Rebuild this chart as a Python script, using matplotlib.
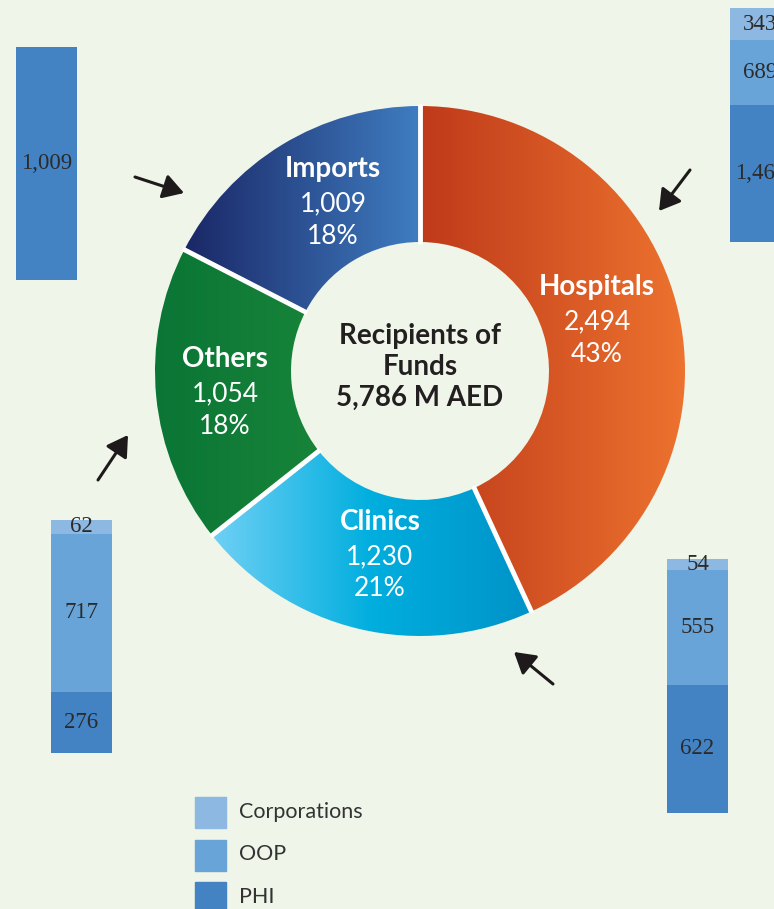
import numpy as np
import matplotlib.pyplot as plt
from matplotlib.colors import LinearSegmentedColormap

# donut data
names = ["Hospitals", "Clinics", "Others", "Imports"]
amounts = [2494, 1230, 1054, 1009]
shares = ["43%", "21%", "18%", "18%"]
total_label = "5,786 M AED"

# stacked bars (Corporations, OOP, PHI) for each recipient
sources = ["Corporations", "OOP", "PHI"]
bar_hospitals = [343, 689, 1462]
bar_clinics = [54, 555, 622]
bar_others = [62, 717, 276]
bar_imports = [0, 0, 1009]

W, H = 774, 909
bg = "#eff5e8"
src_colors = ["#8db8e2", "#68a4d8", "#4383c4"]
grads = [["#bf3a1a", "#ee742f"],
         ["#6fd0f5", "#00aede", "#0093c8"],
         ["#0a7535", "#1f8d3c"],
         ["#1a2766", "#3f7dc1"]]

fig = plt.figure(figsize=(W / 100, H / 100), dpi=100)
fig.patch.set_facecolor(bg)
ax = fig.add_axes([0, 0, 1, 1])
ax.set_facecolor(bg)

cx, cy = 420, H - 371
R, w = 265, 136
wedges, _ = ax.pie(amounts, startangle=90, counterclock=False,
                   center=(cx, cy), radius=R,
                   wedgeprops=dict(width=w, linewidth=0))

# horizontal gradient inside each wedge
grad = np.linspace(0, 1, 256).reshape(1, -1)
for wd, cols in zip(wedges, grads):
    v = wd.get_path().vertices
    x0, x1 = v[:, 0].min(), v[:, 0].max()
    y0, y1 = v[:, 1].min(), v[:, 1].max()
    cmap = LinearSegmentedColormap.from_list("g", cols)
    im = ax.imshow(grad, cmap=cmap, extent=(x0, x1, y0, y1), aspect="auto",
                   zorder=wd.get_zorder() + 0.1)
    im.set_clip_path(wd)
    wd.set_facecolor("none")

# white separators only between slices
for wd in wedges:
    t = np.deg2rad(wd.theta1)
    ax.plot([cx + (R - w - 2) * np.cos(t), cx + (R + 2) * np.cos(t)],
            [cy + (R - w - 2) * np.sin(t), cy + (R + 2) * np.sin(t)],
            color="white", lw=3.5, zorder=3, solid_capstyle="butt")

ax.set_xlim(0, W)
ax.set_ylim(0, H)
ax.axis("off")

# labels on the donut
label_pos = [(597, 287), (380, 522), (225, 359), (333, 169)]
for (px, py), n, a, s in zip(label_pos, names, amounts, shares):
    ax.text(px, H - py, n, color="white", fontsize=20, fontweight="bold",
            family="Lato", ha="center", va="center", zorder=5)
    ax.text(px, H - py - 35, f"{a:,}", color="white", fontsize=19,
            family="Lato", ha="center", va="center", zorder=5)
    ax.text(px, H - py - 67, s, color="white", fontsize=19,
            family="Lato", ha="center", va="center", zorder=5)

ax.text(cx, H - 367, "Recipients of\nFunds\n" + total_label, color="#231f20",
        fontsize=20, fontweight="bold", family="Lato", ha="center",
        va="center", linespacing=1.22, zorder=5)

# arrows
arrows = [((135, 177), (184, 193)), ((690, 170), (659, 211)),
          ((98, 480), (128, 435)), ((553, 684), (514, 652))]
for (sx, sy), (ex, ey) in arrows:
    ax.annotate("", xy=(ex, H - ey), xytext=(sx, H - sy),
                arrowprops=dict(arrowstyle="-|>,head_length=0.5,head_width=0.3",
                                color="#1e1a1b", lw=2.2,
                                mutation_scale=25, shrinkA=0, shrinkB=0))

# stacked bars in their own little axes (pixel boxes: left, top, width, height)
bar_boxes = [(730, 8, 61, 234, bar_hospitals),
             (667, 559, 61, 254, bar_clinics),
             (51, 520, 61, 233, bar_others),
             (16, 47, 61, 233, bar_imports)]
for left, top, bw, bh, vals in bar_boxes:
    bax = fig.add_axes([left / W, 1 - (top + bh) / H, bw / W, bh / H])
    bax.set_xlim(-0.5, 0.5)
    bax.set_ylim(0, sum(vals))
    bax.axis("off")
    bottom = 0
    for v, c in zip(vals[::-1], src_colors[::-1]):
        if v == 0:
            continue
        bax.bar(0, v, width=1, bottom=bottom, color=c)
        bax.text(0, bottom + v / 2, f"{v:,}", ha="center", va="center",
                 fontsize=16.5, family="Liberation Serif", color="#2b2b2b")
        bottom += v

# legend
for i, (s, c) in enumerate(zip(sources, src_colors)):
    top = 797 + i * 42.5
    ax.add_patch(plt.Rectangle((195, H - top - 31), 31, 31, color=c))
    ax.text(239, H - top - 15, s, fontsize=15.5, family="Lato",
            color="#333333", va="center", ha="left")

fig.savefig("out.png", dpi=100, facecolor=bg)
